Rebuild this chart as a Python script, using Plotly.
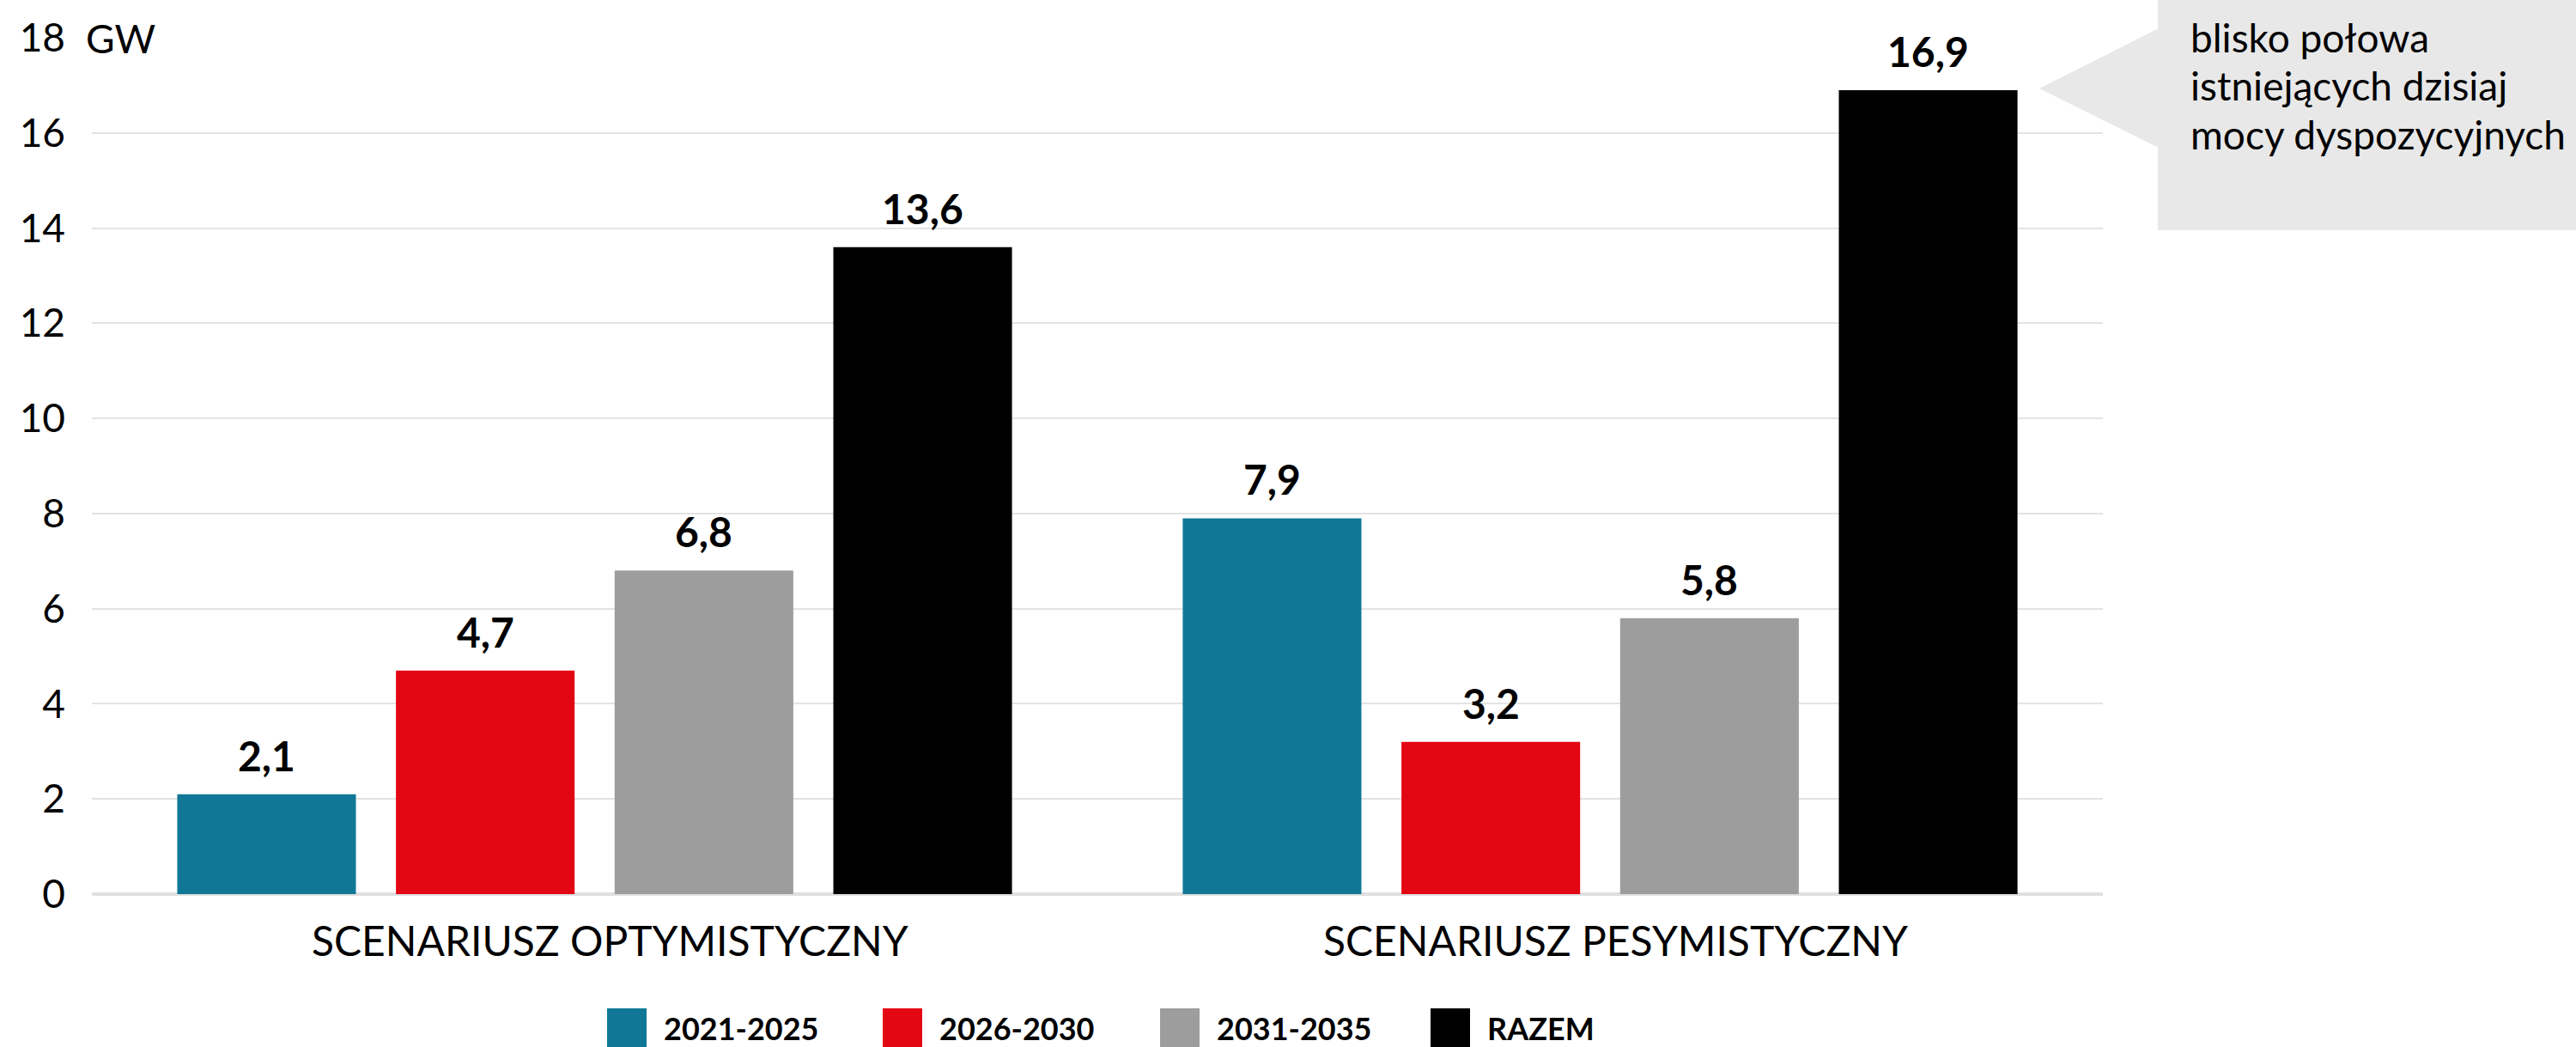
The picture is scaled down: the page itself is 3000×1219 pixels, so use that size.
import plotly.graph_objects as go

# ---------------- data ----------------
categories = ["SCENARIUSZ OPTYMISTYCZNY", "SCENARIUSZ PESYMISTYCZNY"]
series_names = ["2021-2025", "2026-2030", "2031-2035", "RAZEM"]
v_2021_2025 = [2.1, 7.9]
v_2026_2030 = [4.7, 3.2]
v_2031_2035 = [6.8, 5.8]
v_razem = [13.6, 16.9]
series_values = [v_2021_2025, v_2026_2030, v_2031_2035, v_razem]
y_ticks = [0, 2, 4, 6, 8, 10, 12, 14, 16, 18]
unit_label = "GW"
callout_lines = ["blisko połowa", "istniejących dzisiaj", "mocy dyspozycyjnych"]

# ---------------- style ----------------
colors = ["#107896", "#E30613", "#9D9D9D", "#000000"]
FONT = "Lato"
W, H = 3000, 1219
L, R, T, B = 107, 551, 44, 178
PW, PH = W - L - R, H - T - B
BARGAP = 0.13
BARGROUPGAP = 0.183


def px_x(p):
    return (p - L) / PW


def px_y(p):
    return (H - B - p) / PH


fig = go.Figure()
for name, vals, col in zip(series_names, series_values, colors):
    fig.add_trace(go.Bar(
        x=categories, y=vals, name=name, marker=dict(color=col, line=dict(width=0)),
        showlegend=False, hoverinfo="skip",
    ))

annotations = []
shapes = []

# value labels above bars
slot = (1 - BARGAP) / len(series_names)
for si, vals in enumerate(series_values):
    for ci, v in enumerate(vals):
        annotations.append(dict(
            x=ci + (si - (len(series_names) - 1) / 2) * slot, y=v, xref="x", yref="y",
            text="<b>" + f"{v:.1f}".replace(".", ",") + "</b>",
            showarrow=False, yanchor="bottom", xanchor="center", yshift=15,
            font=dict(family=FONT, size=48, color="#000"),
        ))

# category labels (slightly right of the group centre, as in the reference)
for ci, cat in enumerate(categories):
    annotations.append(dict(
        x=ci, y=px_y(1094), xref="x", yref="paper", text=cat, showarrow=False,
        xanchor="center", yanchor="middle", xshift=18,
        font=dict(family=FONT, size=48, color="#000"),
    ))

# unit label next to top tick
annotations.append(dict(
    x=px_x(93), y=18, xref="paper", yref="y", text=unit_label, showarrow=False,
    xanchor="left", yanchor="middle", bgcolor="#ffffff", borderpad=6,
    font=dict(family=FONT, size=46, color="#000"),
))

# callout box
callout_fill = "#E8E8E8"
shapes.append(dict(type="rect", xref="paper", yref="paper",
                   x0=px_x(2513), x1=px_x(3005), y0=px_y(268), y1=px_y(-5),
                   fillcolor=callout_fill, line=dict(width=0), layer="above"))
tri = "M {},{} L {},{} L {},{} Z".format(px_x(2375), px_y(103), px_x(2514), px_y(33), px_x(2514), px_y(172))
shapes.append(dict(type="path", xref="paper", yref="paper", path=tri,
                   fillcolor=callout_fill, line=dict(width=0), layer="above"))
callout_centers = [43, 100, 157]
for line, cy in zip(callout_lines, callout_centers):
    annotations.append(dict(
        x=px_x(2549), y=px_y(cy), xref="paper", yref="paper",
        text=line, showarrow=False, align="left",
        xanchor="left", yanchor="middle",
        font=dict(family=FONT, size=46, color="#000"),
    ))

# manual legend
legend_sq_x = [707, 1028, 1351, 1666]
for name, col, sx in zip(series_names, colors, legend_sq_x):
    shapes.append(dict(type="rect", xref="paper", yref="paper",
                       x0=px_x(sx), x1=px_x(sx + 46), y0=px_y(1174), y1=px_y(1222),
                       fillcolor=col, line=dict(width=0)))
    annotations.append(dict(
        x=px_x(sx + 64), y=px_y(1197), xref="paper", yref="paper",
        text="<b>" + name + "</b>", showarrow=False, xanchor="left", yanchor="middle",
        font=dict(family=FONT, size=36, color="#000"),
    ))

fig.update_layout(
    width=W, height=H,
    margin=dict(l=L, r=R, t=T, b=B, autoexpand=False),
    barmode="group", bargap=BARGAP, bargroupgap=BARGROUPGAP,
    plot_bgcolor="#ffffff", paper_bgcolor="#ffffff",
    font=dict(family=FONT, color="#000"),
    annotations=annotations, shapes=shapes,
    showlegend=False,
)
fig.update_xaxes(
    showgrid=False, showline=False, ticks="", automargin=False, showticklabels=False,
)
fig.update_yaxes(
    range=[0, 18], tickvals=y_ticks, ticktext=[str(t) for t in y_ticks],
    showgrid=True, gridcolor="#E3E3E3", gridwidth=2,
    zeroline=True, zerolinecolor="#E0E0E0", zerolinewidth=4,
    showline=False, ticks="", automargin=False,
    tickfont=dict(family=FONT, size=46, color="#000"), ticklabelstandoff=30,
)

fig.write_html(
    "out.html",
    config={"displayModeBar": False},
    post_script="document.body.style.margin='0';document.body.style.padding='0';document.body.style.overflow='hidden';",
)
